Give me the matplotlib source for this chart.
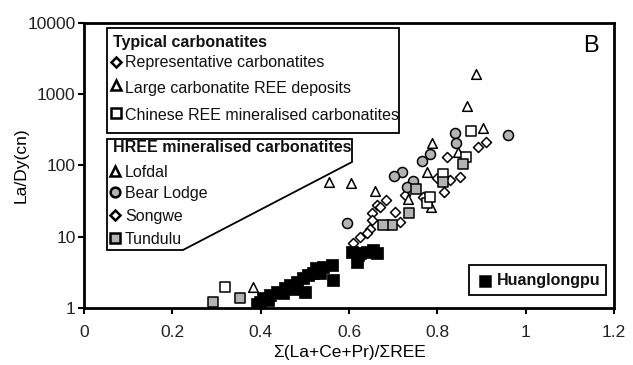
import matplotlib
matplotlib.use("Agg")
import matplotlib.pyplot as plt
from matplotlib.patches import Polygon
from matplotlib.lines import Line2D
from matplotlib.ticker import FixedLocator, FixedFormatter, NullLocator

plt.rcParams['font.family'] = ['Liberation Sans', 'DejaVu Sans']

# --- data ---
huang_x = [0.392, 0.398, 0.405, 0.417, 0.421, 0.437, 0.450, 0.455, 0.466, 0.478, 0.482,
           0.496, 0.500, 0.507, 0.518, 0.525, 0.534, 0.541, 0.561, 0.564,
           0.607, 0.618, 0.620, 0.625, 0.641, 0.654, 0.663]
huang_y = [1.14, 1.21, 1.38, 1.29, 1.52, 1.68, 1.62, 1.91, 2.10, 1.85, 2.31,
           2.63, 1.68, 2.90, 3.09, 3.63, 3.09, 3.75, 4.00, 2.47,
           6.09, 4.41, 5.52, 5.89, 6.09, 6.49, 5.89]

rep_x = [0.910, 0.892, 0.821, 0.851, 0.829, 0.815, 0.799, 0.767]
rep_y = [213, 180, 129, 69.5, 62, 42.6, 66, 36.2]

large_x = [0.887, 0.867, 0.903, 0.789, 0.847, 0.776]
large_y = [1893, 675, 335, 207, 155, 81]

chinese_x = [0.319, 0.876, 0.866, 0.813, 0.777, 0.783]
chinese_y = [1.97, 304, 132, 75, 30, 36.5]

lofdal_x = [0.383, 0.555, 0.604, 0.658, 0.734, 0.786]
lofdal_y = [1.97, 58.7, 55.8, 43.5, 33.6, 26.2]

bear_x = [0.840, 0.842, 0.784, 0.766, 0.721, 0.701, 0.745, 0.731, 0.960, 0.595]
bear_y = [285, 203, 144, 115, 81, 71.7, 60.7, 50, 265, 15.8]

songwe_x = [0.663, 0.651, 0.651, 0.647, 0.625, 0.610, 0.640, 0.704, 0.715, 0.670, 0.684, 0.727]
songwe_y = [27.7, 21.2, 17.1, 12.7, 10.0, 8.2, 11.1, 22.3, 16.2, 26.2, 32.6, 38.3]

tundulu_x = [0.859, 0.813, 0.752, 0.736, 0.697, 0.678, 0.293, 0.354]
tundulu_y = [106, 58.7, 46, 21.2, 14.5, 14.5, 1.23, 1.40]

xticks = [0, 0.2, 0.4, 0.6, 0.8, 1, 1.2]
xtick_labels = ["0", "0.2", "0.4", "0.6", "0.8", "1", "1.2"]
yticks = [1, 10, 100, 1000, 10000]
ytick_labels = ["1", "10", "100", "1000", "10000"]

W, H = 633, 365
GRAY = '#b3b3b3'

fig = plt.figure(figsize=(W / 100, H / 100), dpi=100)
ax = fig.add_axes([84 / W, (H - 308) / H, (614 - 84) / W, (308 - 22.7) / H])

ax.set_yscale('log')
ax.set_xlim(0, 1.2)
ax.set_ylim(1, 10000)

common = dict(edgecolors='black', linewidths=1.1, zorder=3)
ax.scatter(rep_x, rep_y, marker='D', s=26, facecolors='white', **common)
ax.scatter(songwe_x, songwe_y, marker='D', s=26, facecolors='white', **common)
ax.scatter(large_x, large_y, marker='^', s=48, facecolors='white', **common)
ax.scatter(lofdal_x, lofdal_y, marker='^', s=48, facecolors='white', **common)
ax.scatter(chinese_x, chinese_y, marker='s', s=48, facecolors='white', **common)
ax.scatter(bear_x, bear_y, marker='o', s=52, facecolors=GRAY, **common)
ax.scatter(tundulu_x, tundulu_y, marker='s', s=48, facecolors=GRAY, **common)
ax.scatter(huang_x, huang_y, marker='s', s=66, facecolors='black', edgecolors='black',
           linewidths=0.5, zorder=4)

ax.xaxis.set_major_locator(FixedLocator(xticks))
ax.xaxis.set_major_formatter(FixedFormatter(xtick_labels))
ax.yaxis.set_major_locator(FixedLocator(yticks))
ax.yaxis.set_major_formatter(FixedFormatter(ytick_labels))
ax.yaxis.set_minor_locator(NullLocator())
ax.tick_params(direction='out', length=4, width=1.5, labelsize=12.5, colors='black',
               labelcolor='#222222')
ax.tick_params(axis='x', pad=8)
ax.tick_params(axis='y', pad=2)
for sp in ax.spines.values():
    sp.set_linewidth(2)

ax.set_xlabel("\u03a3(La+Ce+Pr)/\u03a3REE", fontsize=12.5)
ax.xaxis.set_label_coords(0.5, -0.13)
ax.set_ylabel("La/Dy(cn)", fontsize=12.5)
ax.yaxis.set_label_coords(-0.104, 0.5)


def fp(px, py):
    return (px / W, 1 - py / H)


tf = fig.transFigure

# legend box 1
fig.add_artist(Polygon([fp(107, 28), fp(399, 28), fp(399, 133), fp(107, 133)],
                       closed=True, facecolor='white', edgecolor='black', lw=1.3,
                       transform=tf, zorder=5))
# legend box 2 (slanted)
fig.add_artist(Polygon([fp(107, 139), fp(352, 139), fp(352, 162), fp(183, 250), fp(107, 250)],
                       closed=True, facecolor='white', edgecolor='black', lw=1.3,
                       transform=tf, zorder=5))
# Huanglongpu box
fig.add_artist(Polygon([fp(469, 265), fp(606, 265), fp(606, 295), fp(469, 295)],
                       closed=True, facecolor='white', edgecolor='black', lw=1.3,
                       transform=tf, zorder=5))

txt = dict(transform=tf, va='center', ha='left', fontsize=11.5, zorder=6, color='#111111')
fig.text(*fp(113, 42), "Typical carbonatites", fontweight='bold', **txt)
fig.text(*fp(125, 63), "Representative carbonatites", **txt)
fig.text(*fp(125, 88), "Large carbonatite REE deposits", **txt)
fig.text(*fp(125, 116), "Chinese REE mineralised carbonatites", **txt)
fig.text(*fp(113, 148), "HREE mineralised carbonatites", fontweight='bold', **txt)
fig.text(*fp(125, 172), "Lofdal", **txt)
fig.text(*fp(125, 193), "Bear Lodge", **txt)
fig.text(*fp(125, 216), "Songwe", **txt)
fig.text(*fp(125, 239), "Tundulu", **txt)
fig.text(*fp(497, 281), "Huanglongpu", fontweight='bold', **txt)
fig.text(*fp(591, 46), "B", transform=tf, va='center', ha='center', fontsize=17, zorder=6)


def legend_marker(px, py, marker, fc, ms):
    x, y = fp(px, py)
    fig.add_artist(Line2D([x], [y], marker=marker, markersize=ms, markerfacecolor=fc,
                          markeredgecolor='black', markeredgewidth=1.8, linestyle='none',
                          transform=tf, zorder=6))


legend_marker(116, 62, 'D', 'white', 5)
legend_marker(116, 85, '^', 'white', 6.5)
legend_marker(116, 113, 's', 'white', 6.5)
legend_marker(115, 171, '^', 'white', 6.5)
legend_marker(115, 192, 'o', GRAY, 7)
legend_marker(115, 215, 'D', 'white', 5)
legend_marker(115, 238, 's', GRAY, 6.5)
legend_marker(485, 281, 's', 'black', 7)

fig.savefig("out.png", dpi=100)
